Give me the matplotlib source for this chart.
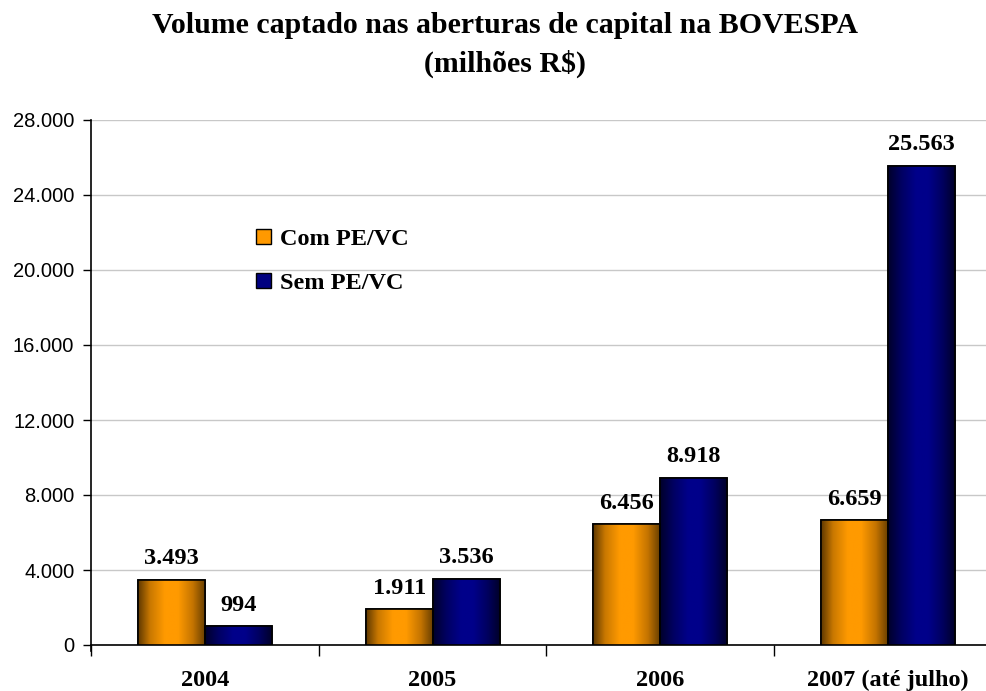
import numpy as np
import matplotlib
matplotlib.use("Agg")
import matplotlib.pyplot as plt
from matplotlib.colors import LinearSegmentedColormap
from matplotlib.ticker import FuncFormatter, FixedLocator

categories = ["2004", "2005", "2006", "2007 (até julho)"]
com_pe_vc = [3493, 1911, 6456, 6659]
sem_pe_vc = [994, 3536, 8918, 25563]
series_names = ["Com PE/VC", "Sem PE/VC"]
yticks = [0, 4000, 8000, 12000, 16000, 20000, 24000, 28000]

W, H = 986, 691
fig = plt.figure(figsize=(W / 100, H / 100), dpi=100)
ax = fig.add_axes([91 / W, (H - 645) / H, (986 - 91) / W, (645 - 120) / H])

serif = ["Liberation Serif", "DejaVu Serif"]
sans = ["Liberation Sans", "DejaVu Sans"]

x = np.arange(len(categories))
bw = 0.294

orange_cmap = LinearSegmentedColormap.from_list(
    "org", [(0.0, "#5e3800"), (0.18, "#c97800"), (0.4, "#ff9a00"),
            (0.6, "#ff9a00"), (0.82, "#c47400"), (1.0, "#6a4000")])
blue_cmap = LinearSegmentedColormap.from_list(
    "blu", [(0.0, "#00002a"), (0.2, "#000062"), (0.42, "#00008a"),
            (0.6, "#00008a"), (0.82, "#00005e"), (1.0, "#00002a")])

grad = np.linspace(0, 1, 256).reshape(1, -1)

bars1 = ax.bar(x - bw / 2, com_pe_vc, bw, color="#ff9900", edgecolor="black",
               linewidth=1.2, zorder=3, label=series_names[0])
bars2 = ax.bar(x + bw / 2, sem_pe_vc, bw, color="#000080", edgecolor="black",
               linewidth=1.2, zorder=3, label=series_names[1])

for bars, cmap in ((bars1, orange_cmap), (bars2, blue_cmap)):
    for p in bars:
        x0, y0 = p.get_x(), p.get_y()
        w, h = p.get_width(), p.get_height()
        im = ax.imshow(grad, cmap=cmap, aspect="auto",
                       extent=(x0, x0 + w, y0, y0 + h), zorder=3.5,
                       interpolation="bilinear")
        im.set_clip_path(p)
        ax.add_patch(plt.Rectangle((x0, y0), w, h, fill=False,
                                   edgecolor="black", linewidth=1.2, zorder=4))

for bars, vals in ((bars1, com_pe_vc), (bars2, sem_pe_vc)):
    for p, v in zip(bars, vals):
        ax.text(p.get_x() + p.get_width() / 2, v + 550,
                f"{v:,}".replace(",", "."), ha="center", va="bottom",
                fontsize=17.5, fontweight="bold", family=serif, zorder=5)

ax.set_xlim(-0.5, 3.43)
ax.set_ylim(0, 28000)
ax.set_yticks(yticks)
ax.yaxis.set_major_formatter(FuncFormatter(lambda v, p: f"{int(v):,}".replace(",", ".")))
ax.tick_params(axis="y", direction="out", length=6, width=1, labelsize=14.5, pad=6)
for lab in ax.get_yticklabels():
    lab.set_family(sans)

ax.set_xticks(x)
ax.set_xticklabels(categories, fontsize=17.5, fontweight="bold", family=serif)
ax.tick_params(axis="x", which="major", length=0, pad=18)
ax.xaxis.set_minor_locator(FixedLocator([-0.5, 0.5, 1.5, 2.5]))
ax.tick_params(axis="x", which="minor", direction="out", length=8, width=1)

ax.grid(axis="y", color="#c8c8c8", linewidth=1, zorder=0)
ax.set_axisbelow(True)
for s in ("top", "right"):
    ax.spines[s].set_visible(False)
ax.spines["left"].set_linewidth(1.2)
ax.spines["bottom"].set_linewidth(1.2)
ax.spines["left"].set_bounds(-300, 28000)
ax.spines["left"].set_clip_on(False)

leg = ax.legend(loc="upper left", bbox_to_anchor=(0.16, 0.835), frameon=False,
                prop={"family": serif, "weight": "bold", "size": 17.5},
                handlelength=0.6, handleheight=0.6, handletextpad=0.4,
                labelspacing=0.95)
for hnd in leg.legend_handles:
    hnd.set_edgecolor("black")
    hnd.set_linewidth(1)

fig.text(0.512, 0.963, "Volume captado nas aberturas de capital na BOVESPA",
         ha="center", va="center", fontsize=21.5, fontweight="bold", family=serif)
fig.text(0.512, 0.908, "(milhões R$)", ha="center", va="center",
         fontsize=21.5, fontweight="bold", family=serif)

fig.savefig("out.png", dpi=100)
